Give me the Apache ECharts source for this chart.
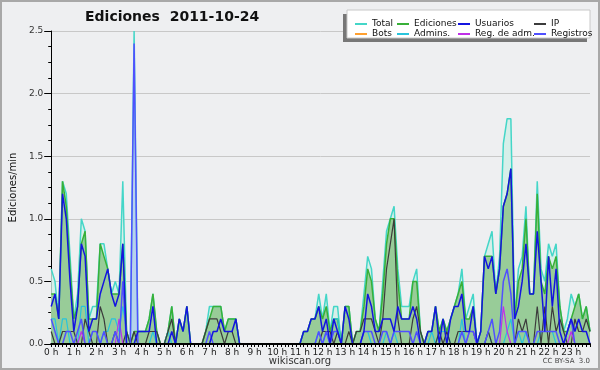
<!DOCTYPE html>
<html>
<head>
<meta charset="utf-8">
<script src="https://cdn.jsdelivr.net/npm/echarts@6/dist/echarts.min.js"></script>
<style>
html, body { margin: 0; padding: 0; background: #eeeff1; }
#main { width: 600px; height: 370px; }
</style>
</head>
<body>
<div id="main"></div>
<script>
// one value every 10 minutes (144 slots), edits per minute
var step = 1 / 6;

var total = [
  0.6,0.5,0.2,1.3,1.2,0.7, 0.2,0.4,1.0,0.9,0.2,0.3,
  0.3,0.8,0.8,0.6,0.4,0.5, 0.4,1.3,0.1,0,2.5,0.1,
  0.1,0.1,0.2,0.4,0.1,0, 0,0.1,0.3,0,0.2,0.1,
  0.3,0,0,0,0,0.1, 0.3,0.3,0.3,0.3,0.1,0.2,
  0.2,0.2,0,0,0,0, 0,0,0,0,0,0,
  0,0,0,0,0,0, 0,0.1,0.1,0.2,0.2,0.4,
  0.2,0.4,0.1,0.3,0.3,0, 0.3,0.3,0,0.1,0.1,0.4,
  0.7,0.6,0.2,0.1,0.5,0.9, 1.0,1.1,0.6,0.3,0.3,0.3,
  0.5,0.6,0.1,0,0.1,0.1, 0.3,0.1,0.2,0.1,0.2,0.3,
  0.4,0.6,0.2,0.3,0.4,0, 0.1,0.7,0.8,0.9,0.4,0.7,
  1.6,1.8,1.8,0.2,0.6,0.7, 1.1,0.4,0.4,1.3,0.6,0.5,
  0.8,0.7,0.8,0.3,0.1,0.2, 0.4,0.3,0.4,0.2,0.3,0.1
];
var edits = [
  0.4,0.4,0.2,1.3,1.1,0.6, 0.2,0.3,0.8,0.9,0.2,0.2,
  0.2,0.8,0.7,0.6,0.4,0.4, 0.4,0.8,0.1,0,0.1,0.1,
  0.1,0.1,0.2,0.4,0.1,0, 0,0.1,0.3,0,0.2,0.1,
  0.3,0,0,0,0,0.1, 0.2,0.3,0.3,0.3,0.1,0.2,
  0.2,0.2,0,0,0,0, 0,0,0,0,0,0,
  0,0,0,0,0,0, 0,0.1,0.1,0.2,0.2,0.3,
  0.2,0.3,0.1,0.2,0.2,0, 0.3,0.3,0,0.1,0.1,0.3,
  0.6,0.5,0.2,0.1,0.4,0.8, 1.0,1.0,0.5,0.2,0.2,0.2,
  0.5,0.5,0.1,0,0.1,0.1, 0.3,0.1,0.2,0.1,0.2,0.3,
  0.4,0.5,0.2,0.2,0.3,0, 0.1,0.7,0.7,0.7,0.4,0.6,
  1.1,1.2,1.4,0.2,0.5,0.6, 1.0,0.4,0.4,1.2,0.5,0.4,
  0.7,0.6,0.7,0.3,0.1,0.1, 0.2,0.3,0.4,0.2,0.3,0.1
];
var users = [
  0.3,0.4,0.2,1.2,1.0,0.5, 0.1,0.3,0.8,0.7,0.1,0.2,
  0.2,0.4,0.5,0.6,0.4,0.3, 0.4,0.8,0,0,0,0.1,
  0.1,0.1,0.1,0.3,0,0, 0,0,0.1,0,0.2,0.1,
  0.3,0,0,0,0,0, 0,0.1,0.1,0.2,0.1,0.1,
  0.1,0.2,0,0,0,0, 0,0,0,0,0,0,
  0,0,0,0,0,0, 0,0.1,0.1,0.2,0.2,0.3,
  0.1,0.2,0,0.2,0.1,0, 0.3,0.2,0,0,0,0.1,
  0.4,0.3,0.1,0.1,0.2,0.2, 0.2,0.1,0.3,0.2,0.2,0.2,
  0.3,0.2,0,0,0.1,0.1, 0.3,0,0.2,0,0.2,0.3,
  0.3,0.4,0.1,0.1,0.3,0, 0.1,0.7,0.6,0.7,0.4,0.6,
  1.1,1.2,1.4,0.2,0.3,0.5, 0.8,0.4,0.4,0.9,0.5,0.1,
  0.7,0.3,0.6,0.1,0,0.1, 0.2,0.1,0.2,0.1,0.1,0
];
var ip = [
  0.1,0,0,0.1,0.1,0.1, 0.1,0,0,0.2,0.1,0,
  0,0.3,0.2,0,0,0.1, 0,0,0.1,0,0.1,0,
  0,0,0.1,0.1,0.1,0, 0,0.1,0.2,0,0,0,
  0,0,0,0,0,0.1, 0.2,0.2,0.2,0.1,0,0.1,
  0.1,0,0,0,0,0, 0,0,0,0,0,0,
  0,0,0,0,0,0, 0,0,0,0,0,0,
  0.1,0.1,0.1,0,0.1,0, 0,0.1,0,0.1,0.1,0.2,
  0.2,0.2,0.1,0,0.2,0.6, 0.8,1.0,0.2,0,0,0,
  0.2,0.3,0.1,0,0,0, 0,0.1,0,0.1,0,0,
  0.1,0.1,0.1,0.1,0.1,0, 0,0,0.1,0,0,0,
  0,0,0,0,0.2,0.1, 0.2,0,0,0.3,0,0.3,
  0,0.3,0.1,0.2,0.1,0, 0,0.2,0.1,0.1,0.2,0.1
];
var bots = [
  0,0,0,0,0,0, 0,0,0,0,0,0, 0,0,0,0,0,0, 0,0,0,0,0,0,
  0,0,0,0,0,0, 0,0,0,0,0,0, 0,0,0,0,0,0, 0,0,0,0,0,0,
  0,0,0,0,0,0, 0,0,0,0,0,0, 0,0,0,0,0,0, 0,0,0,0,0,0,
  0,0,0,0,0,0, 0,0,0,0,0,0, 0,0,0,0,0,0, 0,0,0,0,0,0,
  0,0,0,0,0,0, 0,0,0,0,0,0, 0,0,0,0,0,0, 0,0,0,0,0,0,
  0,0,0,0,0,0, 0,0,0,0,0,0, 0,0,0,0,0,0, 0,0,0,0,0,0
];
var admins = [
  0.2,0.2,0,0.2,0.2,0, 0,0,0.3,0.3,0,0.1,
  0.1,0,0.1,0.1,0.2,0.2, 0.1,0.3,0.1,0,0,0,
  0,0,0,0.1,0,0, 0,0.1,0,0,0,0,
  0,0,0,0,0,0, 0,0,0,0,0,0,
  0,0,0,0,0,0, 0,0,0,0,0,0,
  0,0,0,0,0,0, 0,0,0,0,0,0.1,
  0,0.1,0,0.2,0.2,0, 0,0,0,0,0,0.1,
  0.1,0,0,0,0,0.1, 0,0.1,0,0,0,0,
  0,0,0,0,0,0.1, 0,0.1,0.1,0.1,0,0,
  0,0.2,0,0,0,0, 0,0,0.1,0,0,0,
  0,0.1,0.2,0,0.1,0, 0.1,0,0,0,0.1,0.1,
  0.1,0.1,0,0,0,0, 0,0,0,0,0,0
];
var sysopLogs = [
  0,0,0,0,0,0, 0,0,0.1,0,0,0,
  0,0,0,0,0,0, 0.2,0,0,0,0,0,
  0,0,0,0,0,0, 0,0,0,0,0,0,
  0,0,0,0,0,0, 0,0,0,0,0,0,
  0,0,0,0,0,0, 0,0,0,0,0,0,
  0,0,0,0,0,0, 0,0,0,0,0,0,
  0,0,0,0,0,0, 0,0,0,0,0,0,
  0,0,0,0,0,0, 0,0,0,0,0,0,
  0,0,0,0,0,0, 0,0,0,0,0,0,
  0,0,0,0.1,0.1,0, 0,0,0,0,0,0,
  0.3,0.1,0,0,0,0, 0,0,0,0,0,0,
  0,0,0,0,0,0, 0.1,0,0,0,0,0
];
var logs = [
  0.2,0.1,0,0,0.1,0.1, 0,0.1,0.2,0,0,0.1,
  0.1,0,0.1,0,0,0.1, 0,0.5,0,0,2.4,0,
  0,0,0,0,0,0, 0,0,0,0,0,0,
  0,0,0,0,0,0, 0.1,0,0,0,0,0,
  0,0,0,0,0,0, 0,0,0,0,0,0,
  0,0,0,0,0,0, 0,0,0,0,0,0.1,
  0,0.1,0,0.1,0.1,0, 0,0,0,0,0,0.1,
  0.1,0.1,0,0,0.1,0.1, 0,0.1,0.1,0.1,0.1,0.1,
  0,0.1,0,0,0,0, 0,0,0,0,0,0,
  0,0.1,0,0.1,0.1,0, 0,0,0.1,0.2,0,0.1,
  0.5,0.6,0.4,0,0.1,0.1, 0.1,0,0,0.1,0.1,0.1,
  0.1,0.1,0.1,0,0,0.1, 0.2,0,0,0,0,0
];

var font = 'DejaVu Sans';

function pts(arr) {
  return arr.map(function (v, i) { return [i * step, v]; });
}
function fill(id, arr, color) {
  return {
    name: id, type: 'line', data: pts(arr), symbol: 'none', silent: true, z: 1,
    lineStyle: { width: 0, opacity: 0 },
    areaStyle: { color: color, opacity: 1 }
  };
}
function line(name, arr, color, width) {
  return {
    name: name, type: 'line', data: pts(arr), symbol: 'none', z: 3,
    lineStyle: { color: color, width: width },
    itemStyle: { color: color }
  };
}
function legendCol(left, names) {
  return {
    left: left, top: 14, orient: 'vertical', selectedMode: false, z: 30,
    icon: 'rect', itemWidth: 12, itemHeight: 2, itemGap: 0, itemTextGap: 5,
    textStyle: { fontFamily: font, fontSize: 9, color: '#111', lineHeight: 10 },
    data: names
  };
}

var chart = echarts.init(document.getElementById('main'));
chart.setOption({
  backgroundColor: '#eeeff1',
  animation: false,
  grid: { left: 46, right: 10, top: 31, bottom: 26 },
  legend: [
    legendCol(350, ['Total', 'Bots']),
    legendCol(392, ['Ediciones', 'Admins.']),
    legendCol(453, ['Usuarios', 'Reg. de adm.']),
    legendCol(529, ['IP', 'Registros'])
  ],
  graphic: [
    { type: 'rect', z: 0, shape: { x: 1, y: 1, width: 598, height: 368 },
      style: { fill: 'none', stroke: '#a8a8a8', lineWidth: 2 } },
    { type: 'rect', z: 1, shape: { x: 343, y: 14, width: 244, height: 28 },
      style: { fill: '#777' } },
    { type: 'rect', z: 2, shape: { x: 347, y: 10, width: 243, height: 28 },
      style: { fill: '#fff', stroke: '#c8c8c8', lineWidth: 1 } },
    { type: 'text', left: 85, top: 10, z: 20,
      style: { text: 'Ediciones  2011-10-24', font: 'bold 14px "DejaVu Sans"', fill: '#111' } },
    { type: 'text', left: 'center', top: 356, z: 20,
      style: { text: 'wikiscan.org', font: '10px "DejaVu Sans"', fill: '#333' } },
    { type: 'text', right: 10, top: 358, z: 20,
      style: { text: 'CC BY-SA  3.0', font: '7px "DejaVu Sans"', fill: '#444' } }
  ],
  xAxis: {
    type: 'value', min: 0, max: 143 * step, interval: 1, z: 5,
    axisLine: { lineStyle: { color: '#000', width: 2 } },
    axisTick: { show: true, length: 3, lineStyle: { color: '#000' } },
    minorTick: { show: true, splitNumber: 6, length: 3, lineStyle: { color: '#000' } },
    splitLine: { show: false },
    axisLabel: {
      fontFamily: font, fontSize: 9, color: '#222', margin: 4,
      formatter: function (v) { return v + ' h'; }
    }
  },
  yAxis: {
    type: 'value', min: 0, max: 2.5, interval: 0.5,
    name: 'Ediciones/min', nameLocation: 'middle', nameGap: 32, nameRotate: 90,
    nameTextStyle: { fontFamily: font, fontSize: 10, color: '#111' },
    axisLine: { show: true, lineStyle: { color: '#000', width: 1 } },
    axisTick: { show: true, length: 7, lineStyle: { color: '#000' } },
    minorTick: { show: true, splitNumber: 4, length: 3, lineStyle: { color: '#000' } },
    splitLine: { lineStyle: { color: '#c8c8c8', width: 1 } },
    axisLabel: {
      fontFamily: font, fontSize: 9, color: '#333', margin: 8,
      formatter: function (v) { return v.toFixed(1); }
    }
  },
  series: [
    fill('total-area', total, '#d6efe9'),
    fill('logs-area', logs, '#b6d3ec'),
    fill('edits-area', edits, '#98cc98'),
    line('Total', total, '#44d6c8', 1.5),
    line('Ediciones', edits, '#38b038', 1.5),
    line('Bots', bots, '#ffa030', 1.2),
    line('Admins.', admins, '#28c4dc', 1.2),
    line('IP', ip, '#3c3c3c', 1.2),
    line('Reg. de adm.', sysopLogs, '#c030e8', 1.2),
    line('Registros', logs, '#5050ff', 1.5),
    line('Usuarios', users, '#1414e0', 1.5)
  ]
});
</script>
</body>
</html>
